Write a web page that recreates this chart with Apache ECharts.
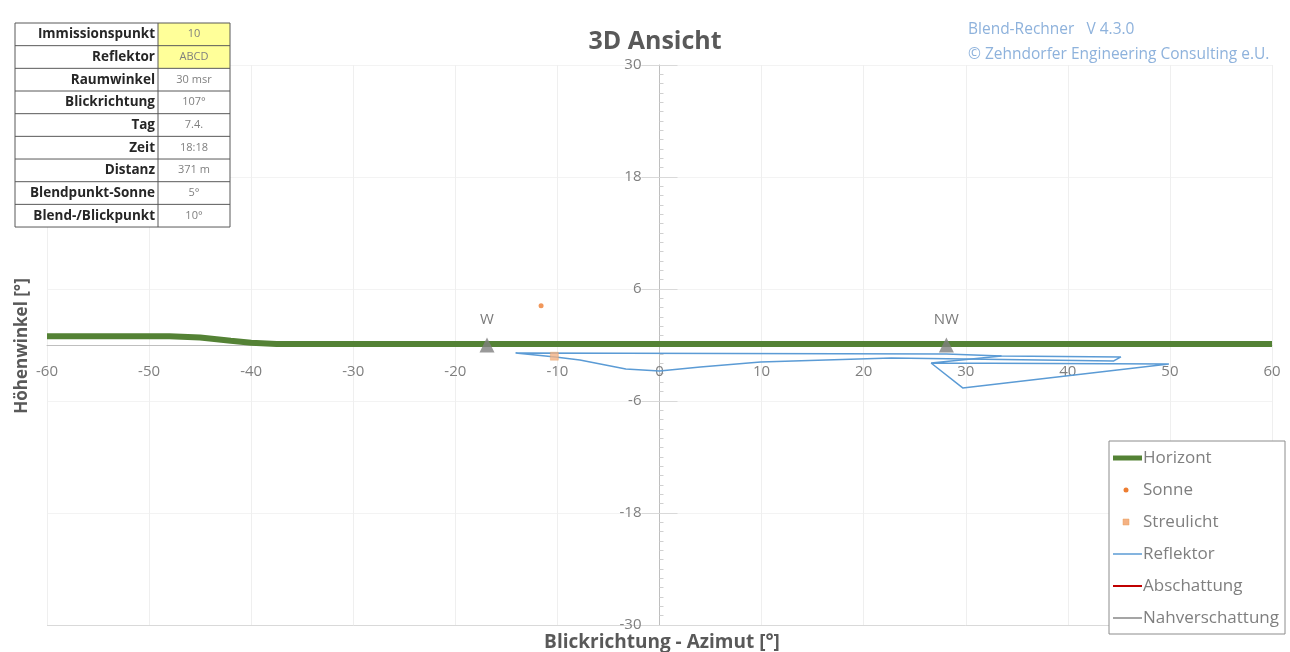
<!DOCTYPE html>
<html><head><meta charset="utf-8">
<script src="https://cdn.jsdelivr.net/npm/echarts@6/dist/echarts.min.js"></script>
<style>html,body{margin:0;padding:0;background:#fff}#c{width:1290px;height:652px}</style>
</head><body><div id="c"></div>
<script>
// ---------- data ----------
const yTickLabels = [-30, -18, -6, 6, 18, 30];
const horizont = [[-60,0.95],[-48,0.95],[-45,0.8],[-42,0.45],[-40,0.25],[-37.5,0.1],[-20,0.1],[0,0.1],[20,0.1],[40,0.1],[60,0.1]];
const sonne = [[-11.6, 4.2]];
const streulicht = [[-10.3, -1.2]];
const reflektorA = [[-14.1,-0.86],[28.1,-0.96],[33.5,-1.18],[45.2,-1.28],[44.5,-1.71],[22.7,-1.39],[9.9,-1.82],[4.0,-2.35],[0,-2.78],[-3.3,-2.57],[-7.8,-1.6],[-10.2,-1.28],[-14.1,-0.86]];
const reflektorB = [[33.5,-1.18],[26.6,-1.93],[49.9,-2.03],[29.7,-4.6],[26.6,-1.93]];
const abschattung = [];
const nahverschattung = [];
const compassNames = ['W', 'NW'];
const compassAz = [-16.9, 28.1];
const compassAlt = [0, 0];
const tableLabels = ['Immissionspunkt','Reflektor','Raumwinkel','Blickrichtung','Tag','Zeit','Distanz','Blendpunkt-Sonne','Blend-/Blickpunkt'];
const tableValues = ['10','ABCD','30 msr','107°','7.4.','18:18','371 m','5°','10°'];
const legendNames = ['Horizont','Sonne','Streulicht','Reflektor','Abschattung','Nahverschattung'];

// ---------- layout / styles ----------
const FONT = 'Open Sans';
const C = {horizont:'#548235', sonne:'#ed7d31', streu:'#f4b183', refl:'#5b9bd5', absch:'#c00000', nah:'#a5a5a5'};
const GL = 47, GR = 18, GT = 65, GB = 27, W = 1290, H = 652;
const gw = W - GL - GR, gh = H - GT - GB;
const yAxisOffset = -gw * (0 - (-60)) / 120;   // place y axis at x = 0
const xAxisOffset = -gh * (0 - (-30)) / 60;    // place x axis at y = 0

const chart = echarts.init(document.getElementById('c'));

// table graphic
const g = [];
const tx = 15, ty = 23, tw = 215, rowH = 22.67, colX = 158;
const TZ = 20;
g.push({type:'rect', shape:{x:tx, y:ty, width:tw, height:rowH*9}, style:{fill:'#fff'}, z:TZ});
g.push({type:'rect', shape:{x:colX, y:ty, width:tx+tw-colX, height:rowH*2}, style:{fill:'#ffff99'}, z:TZ});
for (let i = 0; i <= tableLabels.length; i++) {
  g.push({type:'line', shape:{x1:tx, y1:ty+i*rowH, x2:tx+tw, y2:ty+i*rowH}, style:{stroke:'#595959', lineWidth:1}, z:TZ});
}
[tx, colX, tx+tw].forEach(x => g.push({type:'line', shape:{x1:x, y1:ty, x2:x, y2:ty+rowH*9}, style:{stroke:'#595959', lineWidth:1}, z:TZ}));
tableLabels.forEach((t, i) => {
  g.push({type:'text', x:colX-3, y:ty+i*rowH+rowH/2, style:{text:t, fill:'#262626', font:'bold 13.5px "'+FONT+'"', align:'right', verticalAlign:'middle'}, z:TZ});
  g.push({type:'text', x:(colX+tx+tw)/2, y:ty+i*rowH+rowH/2, style:{text:tableValues[i], fill:'#7f7f7f', font:'11px "'+FONT+'"', align:'center', verticalAlign:'middle'}, z:TZ});
});
// header texts
g.push({type:'text', x:655, y:42, style:{text:'3D Ansicht', fill:'#595959', font:'bold 25px "'+FONT+'"', align:'center', verticalAlign:'middle'}});
g.push({type:'text', x:968, y:30, style:{text:'Blend-Rechner   V 4.3.0', fill:'#8eb2dc', font:'15.5px "'+FONT+'"', align:'left', verticalAlign:'middle'}});
g.push({type:'text', x:968, y:55, style:{text:'© Zehndorfer Engineering Consulting e.U.', fill:'#8eb2dc', font:'15.5px "'+FONT+'"', align:'left', verticalAlign:'middle'}});
// axis titles
g.push({type:'text', x:662, y:643, style:{text:'Blickrichtung - Azimut [°]', fill:'#595959', font:'bold 19px "'+FONT+'"', align:'center', verticalAlign:'middle'}});
g.push({type:'text', x:22, y:346, rotation:Math.PI/2, style:{text:'Höhenwinkel [°]', fill:'#595959', font:'bold 17px "'+FONT+'"', align:'center', verticalAlign:'middle'}});
// legend
const lx = 1109, ly = 441, lw = 176, lh = 193, lgap = 32;
g.push({type:'rect', shape:{x:lx, y:ly, width:lw, height:lh}, style:{fill:'#fff', stroke:'#8c8c8c', lineWidth:1}, z:10});
legendNames.forEach((n, i) => {
  const cy = ly + 17 + i*lgap;
  const z = 11;
  if (i === 0) g.push({type:'line', shape:{x1:1113, y1:cy, x2:1142, y2:cy}, style:{stroke:C.horizont, lineWidth:5}, z});
  if (i === 1) g.push({type:'circle', shape:{cx:1126, cy, r:2.5}, style:{fill:C.sonne}, z});
  if (i === 2) g.push({type:'rect', shape:{x:1123, y:cy-3, width:6, height:6}, style:{fill:C.streu, stroke:'#e8a060', lineWidth:0.5}, z});
  if (i === 3) g.push({type:'line', shape:{x1:1113, y1:cy, x2:1142, y2:cy}, style:{stroke:C.refl, lineWidth:1.5}, z});
  if (i === 4) g.push({type:'line', shape:{x1:1113, y1:cy, x2:1142, y2:cy}, style:{stroke:C.absch, lineWidth:2}, z});
  if (i === 5) g.push({type:'line', shape:{x1:1113, y1:cy, x2:1142, y2:cy}, style:{stroke:C.nah, lineWidth:2}, z});
  g.push({type:'text', x:1143, y:cy, style:{text:n, fill:'#7f7f7f', font:'17px "'+FONT+'"', align:'left', verticalAlign:'middle'}, z});
});

const option = {
  backgroundColor:'#fff',
  animation:false,
  grid:{left:GL, right:GR, top:GT, bottom:GB, containLabel:false, outerBoundsMode:'none'},
  xAxis:{type:'value', min:-60, max:60, interval:10, position:'bottom', offset:xAxisOffset,
    axisLine:{onZero:false, lineStyle:{color:'#bfbfbf'}},
    axisTick:{show:false},
    axisLabel:{color:'#7f7f7f', fontSize:15, fontFamily:FONT, margin:19},
    splitLine:{show:true, lineStyle:{color:'#efefef'}}},
  yAxis:[
    {type:'value', min:-30, max:30, position:'left', offset:yAxisOffset,
      axisLine:{show:true, onZero:false, lineStyle:{color:'#bfbfbf'}},
      axisTick:{show:true, customValues:yTickLabels, length:18, lineStyle:{color:'#d9d9d9'}},
      axisLabel:{customValues:yTickLabels, color:'#7f7f7f', fontSize:15, fontFamily:FONT, margin:18},
      splitLine:{show:false}},
    {type:'value', min:0, max:60, interval:12, position:'left', offset:yAxisOffset,
      axisLine:{show:false, onZero:false},
      axisTick:{show:true, inside:true, length:18, lineStyle:{color:'#d9d9d9'}},
      minorTick:{show:true, splitNumber:12, length:4, lineStyle:{color:'#d0d0d0'}},
      axisLabel:{show:false},
      splitLine:{show:true, lineStyle:{color:['#d9d9d9','#f3f3f3','#f3f3f3','#f3f3f3','#f3f3f3','#f3f3f3']}}}
  ],
  series:[
    {name:'Reflektor', type:'line', data:reflektorA, symbol:'none', lineStyle:{color:C.refl, width:1.5}, z:2},
    {name:'Reflektor', type:'line', data:reflektorB, symbol:'none', lineStyle:{color:C.refl, width:1.5}, z:2},
    {name:'Horizont', type:'line', data:horizont, symbol:'none', lineStyle:{color:C.horizont, width:6}, z:3},
    {name:'Abschattung', type:'line', data:abschattung, symbol:'none', lineStyle:{color:C.absch, width:2}},
    {name:'Nahverschattung', type:'line', data:nahverschattung, symbol:'none', lineStyle:{color:C.nah, width:2}},
    {name:'Sonne', type:'scatter', data:sonne, symbol:'circle', symbolSize:5, itemStyle:{color:C.sonne}, z:5},
    {name:'Streulicht', type:'scatter', data:streulicht, symbol:'rect', symbolSize:8, itemStyle:{color:C.streu, borderColor:'#e8a060', borderWidth:0.5}, z:5},
    {name:'Kompass', type:'scatter', symbol:'triangle', symbolSize:[15,15], itemStyle:{color:'#7f7f7f'}, z:6,
      data:compassAz.map((x,i)=>({name:compassNames[i], value:[x, compassAlt[i]]})),
      label:{show:true, position:'top', distance:10, formatter:'{b}', color:'#595959', fontSize:15, fontFamily:FONT}}
  ],
  graphic:g
};
chart.setOption(option);
</script></body></html>
